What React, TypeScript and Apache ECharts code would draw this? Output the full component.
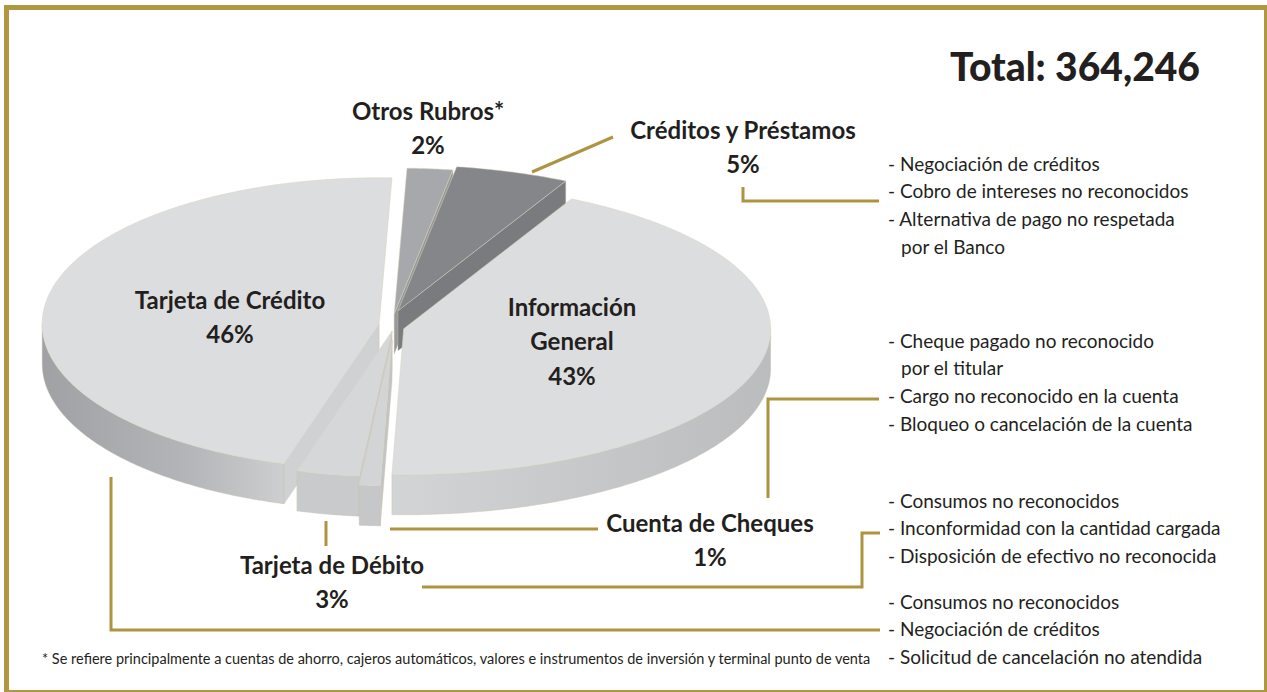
import React, { useEffect, useRef } from "react";
import * as echarts from "echarts";

// ---------- data ----------
const categories = [
  "Otros Rubros*",
  "Créditos y Préstamos",
  "Información\nGeneral",
  "Cuenta de Cheques",
  "Tarjeta de Débito",
  "Tarjeta de Crédito",
];
const shares = [2, 5, 43, 1, 3, 46];
const totalComplaints = 364246;

const detailsCreditos = [
  "- Negociación de créditos",
  "- Cobro de intereses no reconocidos",
  "- Alternativa de pago no respetada\npor el Banco",
];
const detailsCheques = [
  "- Cheque pagado no reconocido\npor el titular",
  "- Cargo no reconocido en la cuenta",
  "- Bloqueo o cancelación de la cuenta",
];
const detailsDebito = [
  "- Consumos no reconocidos",
  "- Inconformidad con la cantidad cargada",
  "- Disposición de efectivo no reconocida",
];
const detailsCredito = [
  "- Consumos no reconocidos",
  "- Negociación de créditos",
  "- Solicitud de cancelación no atendida",
];
const footnote =
  "* Se refiere principalmente a cuentas de ahorro, cajeros automáticos, valores e instrumentos de inversión y terminal punto de venta";

// ---------- layout / style ----------
const FONT = "Lato";
const INK = "#231f20";
const GOLD = "#ae9440";
const START = 2; // degrees clockwise from 12 o'clock
const CX = 393;
const CY = 326;
const RXL = 337;
const RXR = 367;
const RY = 146;
const DEPTH = 40;
const RAD = Math.PI / 180;
const EXPLODE = [12, 16, 11, 14, 5, 14];

const topFill = ["#a7a8ab", "#85868a", "#dcddde", "#d3d4d5", "#d6d7d8", "#dcddde"];
const faceFill = ["#98999c", "#7a7b7e", "#cfd0d1", "#c3c4c6", "#c8c9cb", "#d0d1d2"];
const wallFill: any[] = [
  "#939497",
  "#77787b",
  new echarts.graphic.LinearGradient(0, 0, 1, 0, [
    { offset: 0, color: "#d3d4d5" },
    { offset: 1, color: "#bbbcbe" },
  ]),
  "#c6c7c9",
  "#c9cacc",
  new echarts.graphic.LinearGradient(0, 0, 1, 0, [
    { offset: 0, color: "#a0a1a4" },
    { offset: 0.6, color: "#b4b5b8" },
    { offset: 1, color: "#cdcecf" },
  ]),
];

const labelPos = [
  [428, 110],
  [743, 129],
  [572, 306],
  [710, 522],
  [332, 564],
  [230, 299],
];
const detailBlocks = [detailsCreditos, detailsCheques, detailsDebito, detailsCredito];
const detailStartY = [163, 340, 500, 601];
const DETAIL_STEP = 27.7;

const leaderLines = [
  [[532, 172], [613, 137]],
  [[743, 187], [743, 201], [879, 201]],
  [[768, 498], [768, 399], [879, 399]],
  [[390, 529], [598, 529]],
  [[326, 521], [326, 546]],
  [[422, 587], [862, 587], [862, 533], [880, 533]],
  [[111, 477], [111, 630], [880, 630]],
];

function sliceAngles(i: number, value: number) {
  const sum = shares.reduce((a, b) => a + b, 0);
  let cum = 0;
  for (let k = 0; k < i; k++) cum += shares[k];
  const a0 = START + (360 * cum) / sum;
  const a1 = START + (360 * (cum + value)) / sum;
  return [a0, a1];
}

function drawRank(i: number) {
  // back-to-front painter order
  const keys = shares.map((v, k) => {
    const [a0, a1] = sliceAngles(k, v);
    return -Math.cos(((a0 + a1) / 2) * RAD);
  });
  const order = keys.map((_, k) => k).sort((a, b) => keys[a] - keys[b]);
  return order.indexOf(i);
}

const renderItem = (params: any, api: any) => {
  const i = params.dataIndex;
  const value = api.value(0);
  const [a0, a1] = sliceAngles(i, value);
  const mid = ((a0 + a1) / 2) * RAD;
  const o = EXPLODE[i];
  const cx = CX + o * Math.sin(mid);
  const cy = CY - o * Math.cos(mid);
  const P = (deg: number, dy = 0) => {
    const t = deg * RAD;
    const s = Math.sin(t);
    return [cx + (s > 0 ? RXR : RXL) * s, cy - RY * Math.cos(t) + dy];
  };
  const arc = (from: number, to: number, dy = 0) => {
    const n = Math.max(2, Math.ceil(Math.abs(to - from) / 0.5));
    const pts: number[][] = [];
    for (let k = 0; k <= n; k++) pts.push(P(from + ((to - from) * k) / n, dy));
    return pts;
  };
  const rank = drawRank(i);
  const children: any[] = [];
  const w0 = Math.max(a0, 90);
  const w1 = Math.min(a1, 270);
  if (w1 > w0) {
    children.push({
      type: "polygon",
      shape: { points: arc(w0, w1).concat(arc(w1, w0, DEPTH)) },
      style: { fill: wallFill[i], stroke: "#c8c2aa", lineWidth: 0.4 },
      z2: rank * 10 + 1,
    });
  }
  const c = [cx, cy];
  const cd = [cx, cy + DEPTH];
  if (Math.sin(a0 * RAD) < -0.01) {
    children.push({
      type: "polygon",
      shape: { points: [c, P(a0), P(a0, DEPTH), cd] },
      style: { fill: faceFill[i], stroke: "#c8c2aa", lineWidth: 0.4 },
      z2: rank * 10 + 2,
    });
  }
  if (Math.sin(a1 * RAD) > 0.05) {
    children.push({
      type: "polygon",
      shape: { points: [c, P(a1), P(a1, DEPTH), cd] },
      style: { fill: faceFill[i], stroke: "#c8c2aa", lineWidth: 0.4 },
      z2: rank * 10 + 2,
    });
  }
  children.push({
    type: "polygon",
    shape: { points: [c].concat(arc(a0, a1)) },
    style: { fill: topFill[i], stroke: "#d8d2bc", lineWidth: 0.5 },
    z2: rank * 10 + 3,
  });
  return { type: "group", children };
};

function buildGraphics() {
  const g: any[] = [];
  g.push({
    type: "rect",
    shape: { x: 6.5, y: 7.5, width: 1260, height: 685 },
    style: { fill: "none", stroke: "#b1973f", lineWidth: 5 },
    z: 50,
  });
  g.push({
    type: "text",
    x: 1200,
    y: 66,
    style: {
      text: "Total: " + totalComplaints.toLocaleString("en-US"),
      fontFamily: FONT,
      fontWeight: 900,
      fontSize: 39,
      fill: INK,
      align: "right",
      verticalAlign: "middle",
    },
    z: 100,
  });
  categories.forEach((name, i) => {
    const lines = name.split("\n");
    const [x, y] = labelPos[i];
    const all = lines.concat([shares[i] + "%"]);
    all.forEach((t, k) => {
      g.push({
        type: "text",
        x,
        y: y + k * 34.5,
        style: {
          text: t,
          fontFamily: FONT,
          fontWeight: "bold",
          fontSize: 24,
          fill: INK,
          align: "center",
          verticalAlign: "middle",
        },
        z: 100,
      });
    });
  });
  detailBlocks.forEach((items, b) => {
    let row = 0;
    items.forEach((item) => {
      item.split("\n").forEach((t, k) => {
        g.push({
          type: "text",
          x: k === 0 ? 888 : 901,
          y: detailStartY[b] + row * DETAIL_STEP,
          style: {
            text: t,
            fontFamily: FONT,
            fontSize: 19,
            fill: INK,
            align: "left",
            verticalAlign: "middle",
          },
          z: 100,
        });
        row++;
      });
    });
  });
  g.push({
    type: "text",
    x: 42,
    y: 658,
    style: {
      text: footnote,
      fontFamily: FONT,
      fontSize: 14.5,
      fill: INK,
      align: "left",
      verticalAlign: "middle",
    },
    z: 100,
  });
  leaderLines.forEach((pts) => {
    g.push({
      type: "polyline",
      shape: { points: pts },
      style: { stroke: GOLD, lineWidth: 3, fill: "none" },
      z: 90,
    });
  });
  return g;
}

export default function App() {
  const ref = useRef<HTMLDivElement>(null);
  useEffect(() => {
    if (!ref.current) return;
    const chart = echarts.init(ref.current, undefined, { renderer: "svg" });
    chart.setOption({
      animation: false,
      backgroundColor: "#ffffff",
      series: [
        {
          type: "custom",
          coordinateSystem: "none",
          silent: true,
          data: shares.map((v, i) => ({ value: v, name: categories[i] })),
          renderItem,
        },
      ],
      graphic: buildGraphics(),
    });
    return () => chart.dispose();
  }, []);
  return (
    <div
      ref={ref}
      style={{ position: "absolute", left: 0, top: 0, width: 1267, height: 692 }}
    />
  );
}
